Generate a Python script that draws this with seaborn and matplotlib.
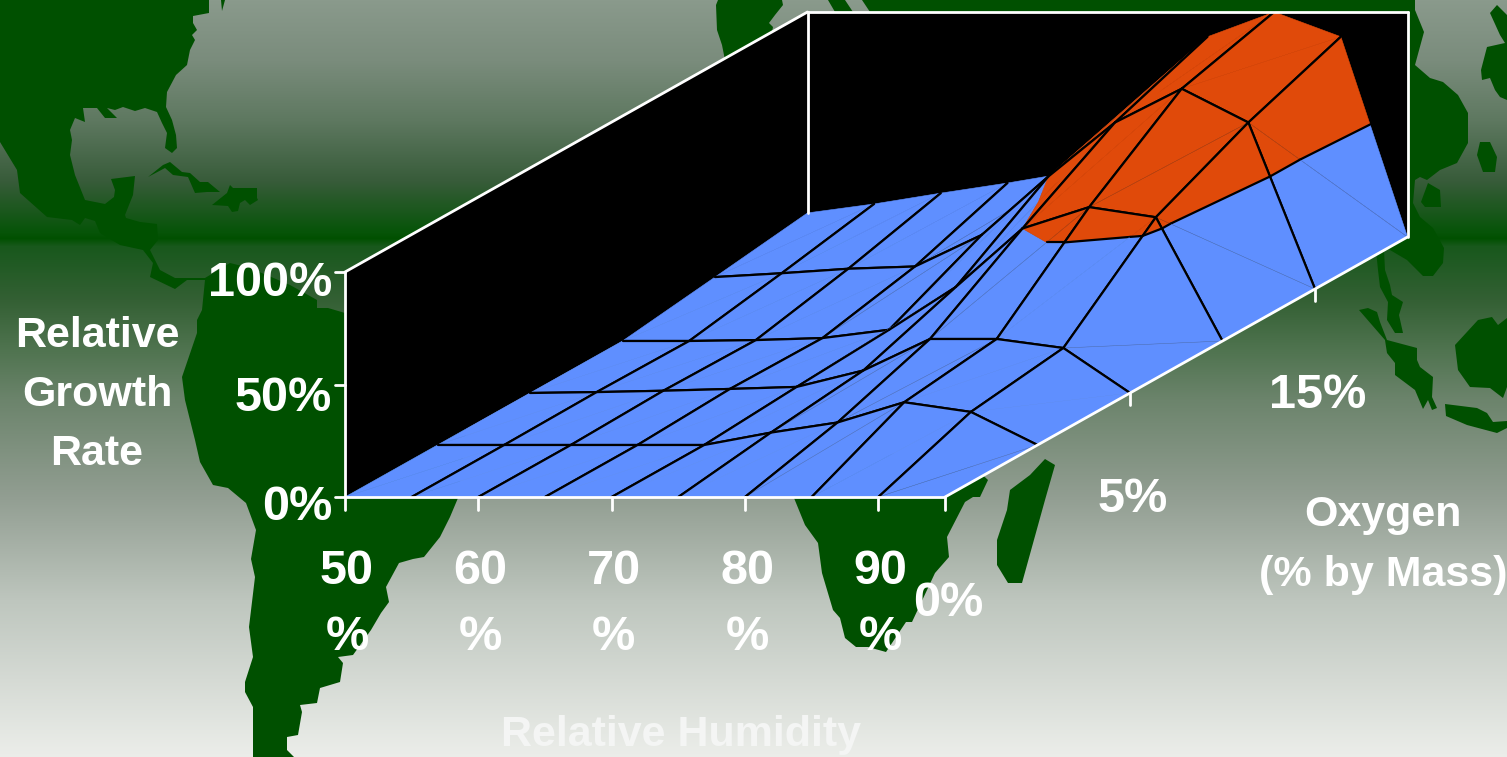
import numpy as np
import pandas as pd
import matplotlib
matplotlib.use("Agg")
import matplotlib.pyplot as plt
import seaborn as sns

sns.set_theme(style="white")
plt.rcParams["font.family"] = ["Liberation Sans", "DejaVu Sans"]
plt.rcParams["font.weight"] = "bold"

## Chart values
humidity = [50, 55, 60, 65, 70, 75, 80, 85, 90, 95]
oxygen = [0, 2, 5, 10, 15, 20]
growth_o0 = [0, 0, 0, 0, 0, 0, 0, 0, 0, 0]
growth_o2 = [0, 0, 0, 0, 0, 5.5, 10, 19, 14.7, 0]
growth_o5 = [0, 0.4, 1, 1.8, 2.7, 10, 24, 24, 20, 0]
growth_o10 = [0, 0, 0.4, 1.3, 5, 24, 50, 59.5, 55, 0]
growth_o15 = [5.3, 7, 9, 10, 24, 50, 74, 89, 74, 0]
growth_o20 = [10.7, 14.7, 19.5, 24, 29, 55, 89, 100, 89, 0]
growth = np.array([growth_o0, growth_o2, growth_o5, growth_o10, growth_o15, growth_o20])

growth_ticks = [0, 50, 100]
humidity_labels = ["50\n%", "60\n%", "70\n%", "80\n%", "90\n%"]
oxygen_labels = ["0%", "5%", "15%"]

## Background map outlines, in picture pixels
map_americas = [(0, 0), (209, 0), (209, 13), (193, 16), (193, 23), (197, 30), (192, 35), (195, 40), (190, 50),
                (187, 65), (176, 75), (167, 92), (166, 107), (172, 120), (176, 135), (177, 148), (172, 153),
                (165, 148), (167, 133), (162, 123), (157, 112), (145, 108), (135, 111), (123, 107), (115, 110),
                (107, 108), (117, 118), (105, 118), (97, 108), (83, 108), (85, 122), (75, 118), (70, 130),
                (72, 140), (70, 155), (75, 175), (85, 200), (105, 204), (114, 197), (115, 190), (111, 179),
                (135, 176), (133, 195), (125, 215), (126, 218), (140, 222), (157, 224), (158, 240), (150, 250),
                (160, 270), (175, 278), (205, 278), (230, 263), (250, 268), (290, 285), (317, 300), (317, 308),
                (328, 308), (345, 313), (470, 400), (458, 498), (450, 517), (440, 537), (424, 557), (413, 559),
                (399, 563), (386, 587), (389, 602), (381, 613), (371, 630), (353, 655), (338, 657), (343, 663),
                (340, 682), (320, 688), (317, 703), (300, 705), (302, 712), (298, 735), (287, 737), (287, 750),
                (294, 757), (253, 757), (253, 707), (245, 692), (245, 682), (253, 657), (249, 627), (255, 577),
                (251, 559), (256, 530), (246, 503), (228, 488), (213, 485), (200, 462), (195, 440), (185, 400),
                (182, 377), (197, 333), (197, 320), (202, 310), (205, 280), (187, 280), (175, 289), (150, 277),
                (153, 263), (143, 250), (120, 245), (100, 233), (95, 221), (85, 218), (80, 225), (72, 220),
                (47, 217), (20, 193), (17, 170), (0, 142)]
map_cuba = [(148, 177), (163, 165), (170, 162), (182, 172), (190, 173), (200, 182), (208, 182), (220, 192),
            (207, 192), (195, 193), (188, 177), (173, 175), (165, 168)]
map_hispaniola = [(212, 205), (227, 193), (230, 185), (233, 188), (257, 188), (257, 198), (258, 200), (250, 205),
                  (245, 200), (240, 203), (238, 211), (232, 212), (228, 206)]
map_sliver = [(221, 0), (225, 0), (222, 11)]
map_europe = [(718, 0), (782, 0), (783, 5), (775, 15), (769, 23), (773, 27), (772, 32), (760, 50), (725, 60),
              (722, 45), (717, 30), (716, 5)]
map_strip = [(828, 0), (845, 0), (853, 12), (835, 12)]
map_africa = [(794, 480), (794, 498), (805, 525), (818, 543), (822, 573), (833, 610), (840, 618), (845, 638),
              (856, 647), (868, 647), (886, 652), (894, 640), (906, 622), (912, 622), (935, 573), (949, 557),
              (947, 537), (965, 502), (973, 497), (980, 497), (988, 480), (945, 440)]
map_madagascar = [(1045, 459), (1055, 465), (1045, 500), (1022, 583), (1008, 583), (997, 565), (997, 540),
                  (1007, 510), (1010, 490), (1030, 475)]
map_asia = [(862, 0), (1415, 0), (1415, 10), (1424, 32), (1415, 65), (1430, 78), (1443, 82), (1458, 95), (1468, 113),
            (1468, 143), (1457, 163), (1440, 170), (1427, 180), (1420, 177), (1415, 180), (1413, 203), (1420, 217),
            (1433, 228), (1438, 237), (1444, 248), (1443, 263), (1433, 276), (1423, 276), (1407, 260), (1390, 250),
            (1370, 240), (1000, 100), (870, 12)]
map_india = [(1376, 250), (1384, 250), (1385, 270), (1390, 285), (1392, 295), (1403, 302), (1399, 315), (1403, 333),
             (1395, 333), (1387, 320), (1388, 302), (1380, 287), (1378, 270)]
map_taiwan = [(1421, 202), (1428, 183), (1440, 190), (1441, 207), (1425, 207)]
map_sumatra = [(1359, 310), (1368, 308), (1377, 312), (1380, 322), (1387, 340), (1417, 348), (1417, 360), (1420, 367),
               (1433, 377), (1432, 397), (1437, 408), (1432, 410), (1428, 400), (1423, 409), (1415, 390), (1395, 375),
               (1395, 363), (1387, 353), (1385, 340)]
map_borneo = [(1455, 345), (1478, 320), (1492, 317), (1498, 325), (1507, 318), (1507, 387), (1503, 398), (1490, 388),
              (1470, 387), (1458, 370)]
map_java = [(1445, 404), (1477, 408), (1487, 413), (1493, 422), (1507, 421), (1507, 428), (1497, 433), (1467, 425),
            (1446, 416)]
map_japan = [(1490, 13), (1497, 5), (1507, 15), (1507, 100), (1500, 97), (1495, 90), (1490, 78), (1482, 80),
             (1481, 70), (1487, 47), (1505, 43), (1500, 35)]
map_hainan = [(1477, 155), (1480, 142), (1490, 142), (1497, 157), (1495, 172), (1483, 172)]
map_pieces = [map_americas, map_cuba, map_hispaniola, map_sliver, map_europe, map_strip, map_africa, map_madagascar,
              map_asia, map_india, map_taiwan, map_sumatra, map_borneo, map_java, map_japan, map_hainan]

BLUE = "#5f8fff"
ORANGE = "#e04a0a"
MAP_GREEN = "#005000"


## Oblique projection of the 3D chart box onto the picture
def project(i, j, z):
    return 345 + 66.67 * i + 92.5 * j, 497 - 52 * j - 2.25 * z


def split_triangle(tri, level=50):
    # Cut a triangle at the colour band boundary
    low, high, seg = [], [], []
    for n in range(3):
        a, b = tri[n], tri[(n + 1) % 3]
        if a[2] <= level:
            low.append(a)
        if a[2] >= level:
            high.append(a)
        if (a[2] - level) * (b[2] - level) < 0:
            t = (level - a[2]) / (b[2] - a[2])
            p = (a[0] + t * (b[0] - a[0]), a[1] + t * (b[1] - a[1]), level)
            low.append(p)
            high.append(p)
            seg.append(p)
    return low, high, seg


fig = plt.figure(figsize=(15.07, 7.57), dpi=100)
ax = fig.add_axes([0, 0, 1, 1])

## Background gradient
stops_y = [0, 60, 120, 180, 232, 238, 246, 300, 350, 400, 497, 600, 757]
stops_r = [138, 122, 94, 56, 6, 0, 24, 52, 80, 108, 146, 190, 236]
stops_g = [154, 140, 120, 92, 84, 80, 88, 96, 116, 132, 158, 198, 238]
stops_b = [140, 124, 96, 58, 8, 0, 28, 52, 80, 108, 146, 190, 234]
rows = np.arange(757)
grad = np.stack([np.interp(rows, stops_y, c) for c in (stops_r, stops_g, stops_b)], axis=1) / 255
ax.imshow(grad[:, None, :], extent=[0, 1507, 757, 0], aspect="auto", zorder=0)

for piece in map_pieces:
    xs, ys = zip(*piece)
    ax.fill(xs, ys, color=MAP_GREEN, lw=0, zorder=1)

## Chart box
top = max(growth_ticks)
ni, nj = len(humidity) - 1, len(oxygen) - 1
walls = [project(0, 0, top), project(0, nj, top), project(ni, nj, top), project(ni, nj, 0),
         project(0, nj, 0), project(0, 0, 0)]
ax.fill(*zip(*walls), color="black", lw=0, zorder=2)

## Surface, painted from the far corner forward
order = 3.0


def edge(p, q):
    global order
    order += 0.001
    a, b = project(*p), project(*q)
    ax.plot([a[0], b[0]], [a[1], b[1]], color="black", lw=1.6, solid_capstyle="round", zorder=order)


for j in range(nj - 1, -1, -1):
    for i in range(ni):
        p00 = (i, j, growth[j, i])
        p10 = (i + 1, j, growth[j, i + 1])
        p11 = (i + 1, j + 1, growth[j + 1, i + 1])
        p01 = (i, j + 1, growth[j + 1, i])
        for tri in ([p00, p11, p01], [p00, p10, p11]):
            low, high, seg = split_triangle(tri)
            for poly, colour in ((low, BLUE), (high, ORANGE)):
                if len(poly) > 2:
                    order += 0.001
                    ax.fill(*zip(*[project(*p) for p in poly]), color=colour, lw=0.4, zorder=order)
            if len(seg) == 2:
                edge(seg[0], seg[1])
        if abs(p00[2] + p11[2] - p10[2] - p01[2]) > 8:
            order += 0.001
            a, b = project(*p00), project(*p11)
            ax.plot([a[0], b[0]], [a[1], b[1]], color="#303030", lw=0.35, alpha=0.35, zorder=order)
        if j > 0:
            edge(p00, p10)
        if j + 1 < nj:
            edge(p01, p11)
        if i > 0:
            edge(p00, p01)
        if i + 1 < ni:
            edge(p10, p11)

## Frame and ticks in white
frame = []


def add_seg(name, p, q):
    frame.append({"seg": name, "x": p[0], "y": p[1]})
    frame.append({"seg": name, "x": q[0], "y": q[1]})


outline = [project(0, 0, 0), project(0, 0, top), project(0, nj, top), project(ni, nj, top),
           project(ni, nj, 0), project(ni, 0, 0), project(0, 0, 0)]
for n in range(len(outline) - 1):
    add_seg(f"o{n}", outline[n], outline[n + 1])
add_seg("back", project(0, nj, top), project(0, nj, growth_o20[0]))
for v in growth_ticks:
    x, y = project(0, 0, v)
    add_seg(f"y{v}", (x - 10, y), (x, y))
for i in [0, 2, 4, 6, 8, 9]:
    x, y = project(i, 0, 0)
    add_seg(f"h{i}", (x, y), (x, y + 13))
for j in [2, 4]:
    x, y = project(ni, j, 0)
    add_seg(f"ox{j}", (x, y), (x, y + 12))
sns.lineplot(data=pd.DataFrame(frame), x="x", y="y", units="seg", estimator=None, sort=False,
             color="white", lw=2.0, legend=False, ax=ax, zorder=order + 1)

## Text
tick_size = 35
title_size = 31
for v, off in zip(growth_ticks, [11, 14, 12]):
    ax.text(332, project(0, 0, v)[1] + off, f"{v}%", color="white", fontsize=tick_size, ha="right", va="center")
for i, lab in zip([0, 2, 4, 6, 8], humidity_labels):
    ax.text(project(i, 0, 0)[0] + 2, 604, lab, color="white", fontsize=tick_size, ha="center", va="center",
            linespacing=1.6)
for j, lab in zip([0, 2, 4], oxygen_labels):
    x, y = project(ni, j, 0)
    ax.text(x + 3, y + 106, lab, color="white", fontsize=tick_size, ha="center", va="center")
ax.text(97, 395, "Relative\nGrowth\nRate", color="white", fontsize=title_size, ha="center", va="center",
        linespacing=1.6)
ax.text(1383, 545, "Oxygen\n(% by Mass)", color="white", fontsize=title_size, ha="center", va="center",
        linespacing=1.65)
ax.text(681, 735, "Relative Humidity", color="#f4f5f4", fontsize=title_size, ha="center", va="center")

ax.set(xlim=(0, 1507), ylim=(757, 0), xlabel="", ylabel="")
ax.axis("off")
fig.savefig("out.png", dpi=100)
